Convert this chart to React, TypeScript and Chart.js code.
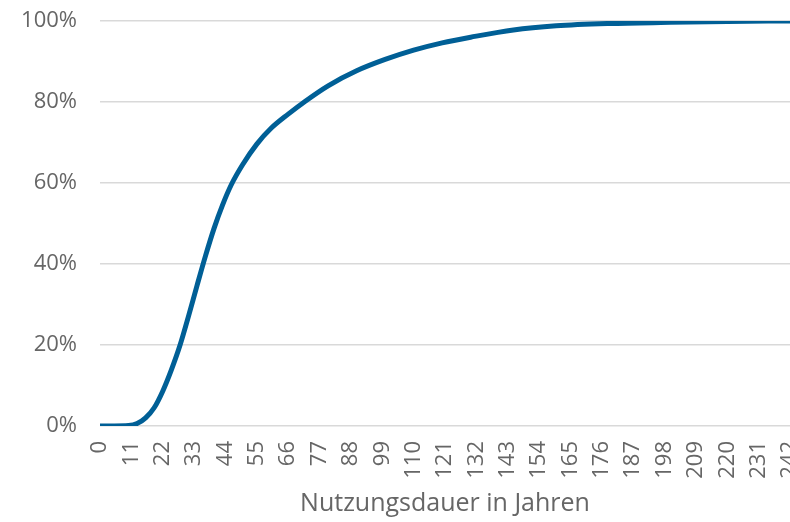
import React, { useEffect, useRef } from "react";
import { Chart, registerables } from "chart.js";

Chart.register(...registerables);

// Nutzungsdauer (years) and cumulative share (%)
const years = [0, 5, 10, 13, 16, 19, 22, 25, 28, 31, 34, 37, 40, 43, 46, 50, 55, 60, 66, 72, 80, 90, 100, 110, 120, 130, 145, 160, 180, 200, 220, 242];
const shares = [0, 0, 0.1, 0.6, 2.0, 4.5, 8.6, 13.8, 19.8, 27, 34.6, 42, 48.8, 54.6, 59.5, 64.5, 69.6, 73.5, 77, 80.2, 84, 87.7, 90.5, 92.8, 94.6, 96, 97.8, 98.8, 99.4, 99.7, 99.9, 100];

const xMin = 0;
const xMax = 242;
const xStep = 11;
const yTicksStep = 20;
const xTitle = "Nutzungsdauer in Jahren";

const FONT = "'Open Sans', 'Noto Sans', sans-serif";
const TEXT = "#666666";

export default function App() {
  const ref = useRef<HTMLCanvasElement | null>(null);

  useEffect(() => {
    if (!ref.current) return;
    const chart = new Chart(ref.current, {
      type: "line",
      data: {
        datasets: [
          {
            data: years.map((x, i) => ({ x, y: shares[i] })),
            borderColor: "#005f96",
            borderWidth: 5,
            pointRadius: 0,
            cubicInterpolationMode: "monotone",
            fill: false,
          },
        ],
      },
      options: {
        animation: false,
        responsive: false,
        maintainAspectRatio: false,
        layout: { padding: { top: 21, bottom: 3, left: 0, right: 0 } },
        plugins: { legend: { display: false }, tooltip: { enabled: false } },
        scales: {
          x: {
            type: "linear",
            min: xMin,
            max: xMax,
            grid: { display: false, drawTicks: false },
            border: { display: false },
            ticks: {
              stepSize: xStep,
              autoSkip: false,
              maxRotation: 90,
              minRotation: 90,
              padding: 15,
              color: TEXT,
              font: { family: FONT, size: 22 },
            },
            title: {
              display: true,
              text: xTitle,
              color: TEXT,
              font: { family: FONT, size: 25 },
              padding: { top: 4, bottom: 0 },
            },
            afterFit: (scale: any) => {
              scale.paddingRight = 0;
              scale.paddingLeft = 0;
              scale.height = 93;
            },
          },
          y: {
            min: 0,
            max: 100,
            grid: { color: "#d9d9d9", lineWidth: 1.5, drawTicks: false },
            border: { display: false },
            ticks: {
              stepSize: yTicksStep,
              padding: 23,
              color: TEXT,
              font: { family: FONT, size: 22 },
              callback: (v: any) => v + "%",
            },
            afterFit: (scale: any) => {
              scale.width = 100;
              scale.paddingTop = 0;
              scale.paddingBottom = 0;
            },
          },
        },
      },
    });
    return () => chart.destroy();
  }, []);

  return (
    <div style={{ position: "fixed", left: 0, top: 0, width: 790, height: 522 }}>
      <canvas ref={ref} width={790} height={522} style={{ width: 790, height: 522 }} />
    </div>
  );
}
